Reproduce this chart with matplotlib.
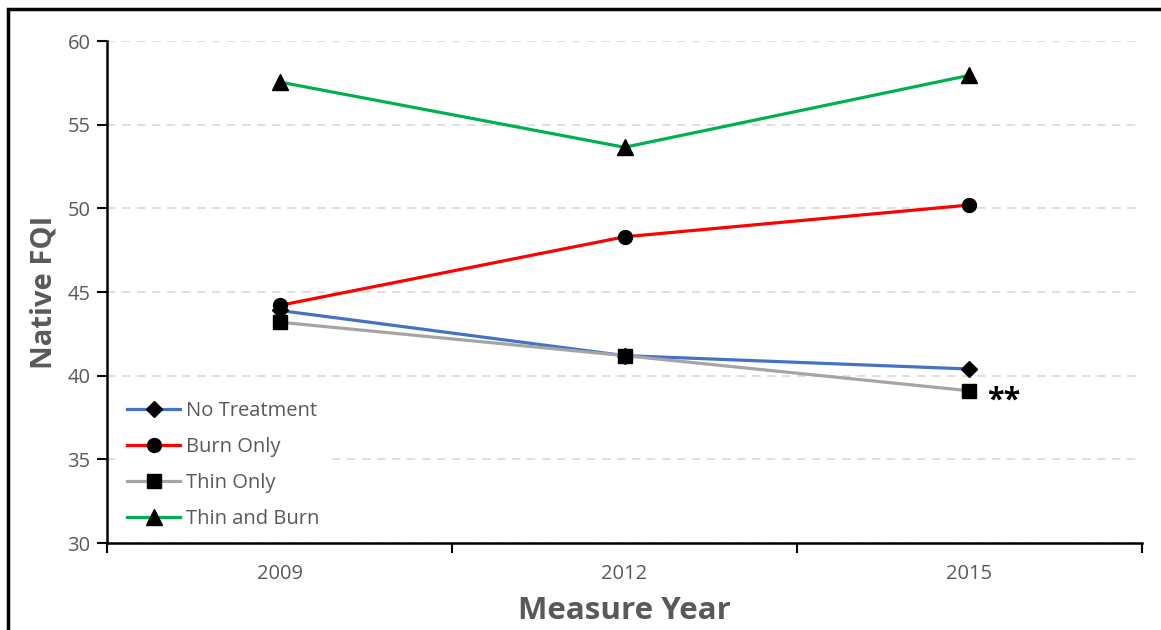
import matplotlib.pyplot as plt
from matplotlib.patches import Rectangle

# ── Native FQI by treatment and measure year ───────────────────────────────
years = ["2009", "2012", "2015"]
no_treatment = [43.9, 41.2, 40.4]
burn_only = [44.2, 48.3, 50.2]
thin_only = [43.2, 41.2, 39.1]
thin_and_burn = [57.55, 53.65, 57.95]

series = [
    ("No Treatment", no_treatment, "#4472C4", "D", 8),
    ("Burn Only", burn_only, "#FF0000", "o", 10),
    ("Thin Only", thin_only, "#A5A5A5", "s", 10),
    ("Thin and Burn", thin_and_burn, "#00B050", "^", 11),
]

plt.rcParams["font.family"] = ["Open Sans", "DejaVu Sans"]
TXT = "#595959"

fig = plt.figure(figsize=(11.61, 6.30), dpi=100)
ax = fig.add_axes([0.0922, 0.138, 0.8914, 0.7969])

x = list(range(len(years)))
for name, vals, col, mk, ms in series:
    ax.plot(x, vals, color=col, lw=2.3, marker=mk, markersize=ms,
            markerfacecolor="black", markeredgecolor="black", label=name)

ax.text(2.05, 38.5, "**", fontsize=22, fontweight="bold", color="black",
        ha="left", va="center")

ax.set_xlim(-0.5, 2.5)
ax.set_ylim(30, 60)
ax.set_yticks(range(30, 61, 5))
ax.set_xticks([-0.5, 0.5, 1.5, 2.5])
ax.set_xticklabels([])
ax.set_xticks(x, minor=True)
ax.set_xticklabels(years, minor=True)
ax.tick_params(axis="x", which="minor", length=0, pad=15, labelsize=14.5, labelcolor=TXT)
ax.tick_params(axis="x", which="major", length=7, width=1.5, direction="out")
ax.tick_params(axis="y", length=7, width=1.5, direction="out", labelsize=14.5,
               labelcolor=TXT, pad=5)

ax.grid(axis="y", color="#D9D9D9", linestyle=(0, (5, 4)), lw=1.2)
ax.set_axisbelow(True)
for s in ["top", "right"]:
    ax.spines[s].set_visible(False)
for s in ["left", "bottom"]:
    ax.spines[s].set_linewidth(1.8)

ax.set_ylabel("Native FQI", fontsize=21, fontweight="bold", color=TXT, labelpad=6)
ax.set_xlabel("Measure Year", fontsize=22.5, fontweight="bold", color=TXT, labelpad=9)

leg = ax.legend(loc="lower left", bbox_to_anchor=(0.006, 0.0), frameon=True,
                fancybox=False, edgecolor="white", framealpha=1, fontsize=14.5,
                handlelength=2.6, handletextpad=0.3, labelspacing=0.8,
                borderaxespad=0.3, borderpad=0.4)
for t in leg.get_texts():
    t.set_color(TXT)

# outer frame of the chart area
fig.patches.append(Rectangle((8 / 1161, -0.05), 1.1, 1 - 9 / 630 + 0.05,
                             transform=fig.transFigure, fill=False,
                             edgecolor="black", lw=2.5))

fig.savefig("out.png", dpi=100)
